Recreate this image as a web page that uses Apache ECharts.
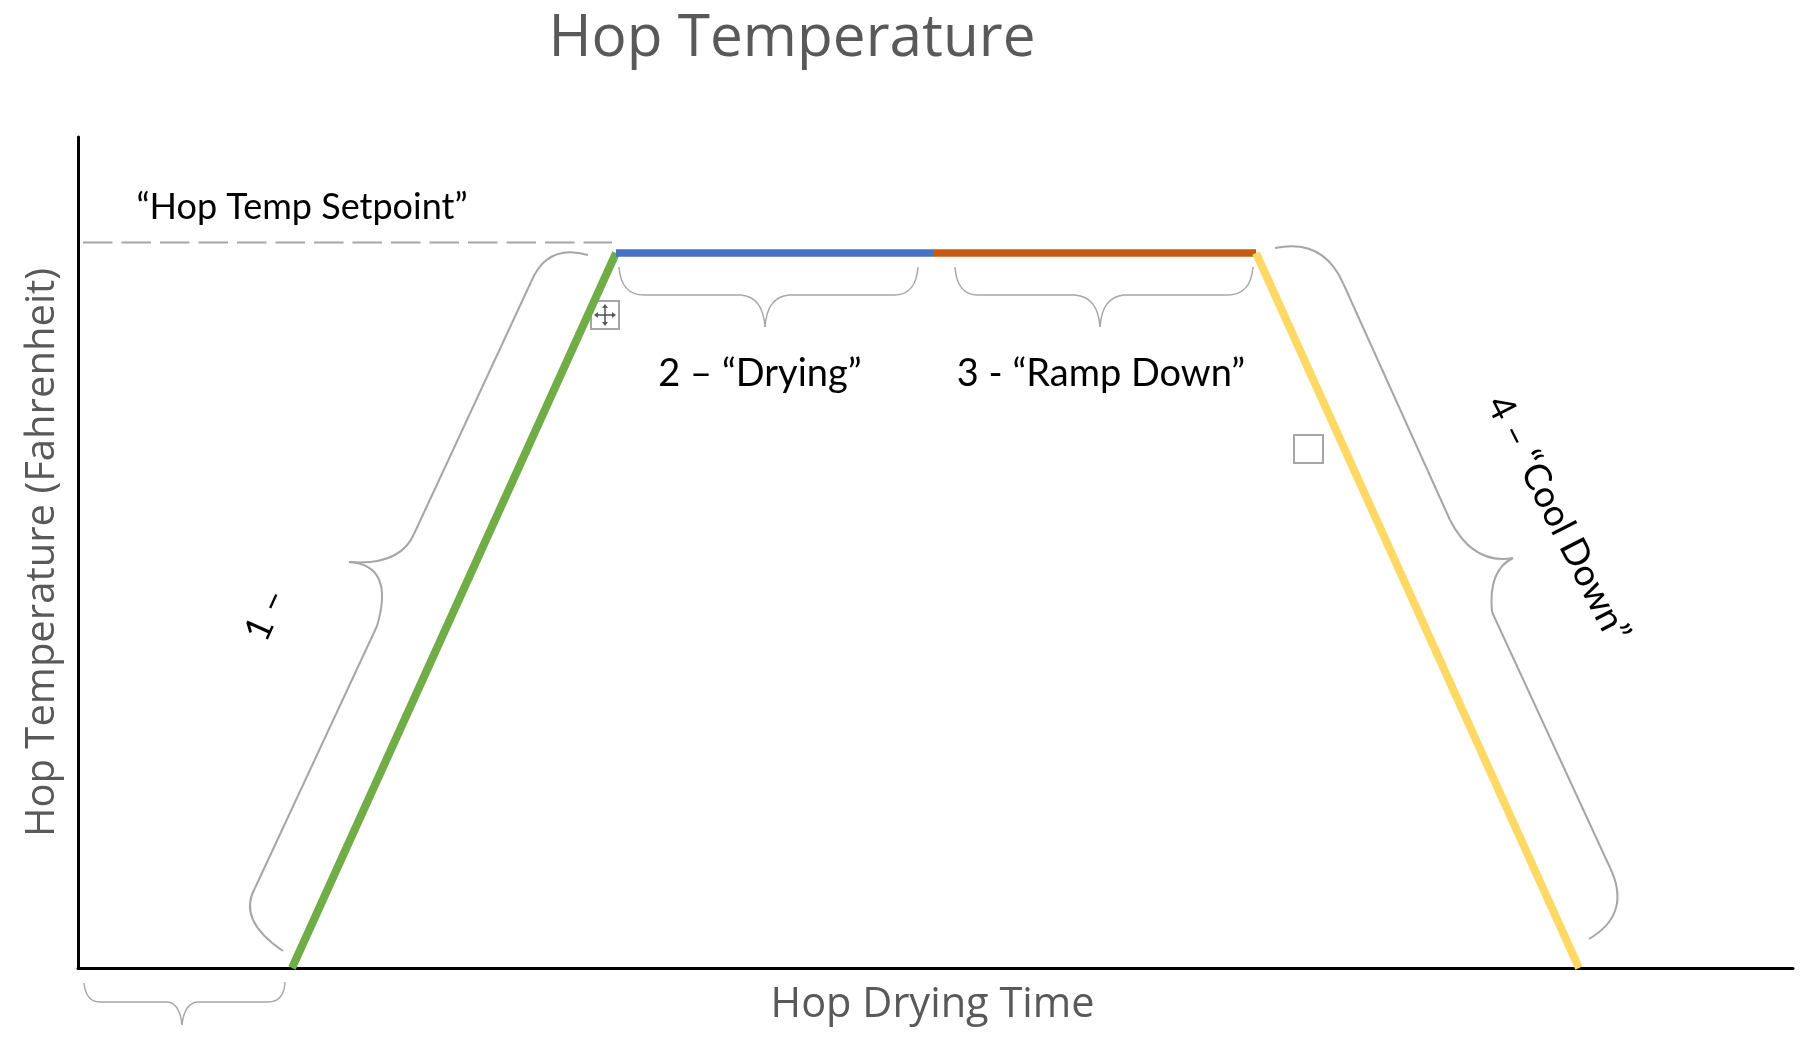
<!DOCTYPE html>
<html>
<head>
<meta charset="utf-8">
<style>html,body{margin:0;padding:0;background:#fff}#c{width:1802px;height:1038px}</style>
<script src="https://cdn.jsdelivr.net/npm/echarts@6/dist/echarts.min.js"></script>
</head>
<body>
<div id="c"></div>
<script>
const titleText = 'Hop Temperature';
const xAxisName = 'Hop Drying Time';
const yAxisName = 'Hop Temperature (Fahrenheit)';

const heating  = [[214, 0], [538, 715]];
const drying   = [[538, 715], [855, 715]];
const rampDown = [[855, 715], [1178, 715]];
const coolDown = [[1178, 715], [1501, 0]];
const setpoint = [[5, 725.5], [534, 725.5]];

// start, ctrl, a, b, ctrl, tip, ctrl, c, d, ctrl, end
const braceLead  = [[6,-15],[8,-34],[22,-34],[90,-34],[102,-36],[104,-57],[106,-36],[119,-34],[190,-34],[206,-34],[207,-14]];
const braceHeat  = [[510,713],[469,725],[453,686],[336,434],[322,402],[271,406],[317,403],[299,342],[177,80],[159,48],[205,17]];
const braceDry   = [[541,701],[543,673],[566,673],[663,673],[685,671],[687,641],[689,671],[711,673],[816,673],[838,673],[840,701]];
const braceRamp  = [[877,701],[879,673],[900,673],[997,673],[1020,671],[1022,641],[1024,671],[1046,673],[1149,673],[1173,673],[1175,701]];
const braceCool  = [[1197,720],[1245,730],[1265,685],[1372,448],[1395,403],[1435,410],[1410,398],[1414,356],[1534,96],[1552,53],[1511,29]];
const thinBraces = [braceLead, braceDry, braceRamp];
const wideBraces = [braceHeat, braceCool];

const notes = [
  ['“Hop Temp Setpoint”', 224, 761, 0],
  ['2 – “Drying”', 682, 594, 0],
  ['3 - “Ramp Down”', 1023, 594, 0],
  ['1 –', 188, 353, 65.6],
  ['4 – “Cool Down”', 1480, 449, -63]
];
const noteFontSizes = [36, 38, 38, 37, 37];
const handleBoxes = [[513, 667, 541, 639], [1216, 533, 1245, 505]];
const moveIconAt = [527, 653];

const grey = '#A6A6A6';
const textFont = '"Open Sans","Noto Sans",sans-serif';
const noteFont = 'Lato,"Open Sans",sans-serif';

function lineSeries(name, data, color, width, type) {
  return {
    name, type: 'line', data, symbol: 'none', silent: true, animation: false, clip: false,
    lineStyle: { color, width, type: type || 'solid', cap: 'butt' }
  };
}

function braceChildren(p, api, width) {
  const c = p.map(q => api.coord(q));
  const style = { stroke: grey, lineWidth: width, fill: null };
  const quad = (a, m, b) => ({ type: 'bezierCurve', shape: { x1: c[a][0], y1: c[a][1], cpx1: c[m][0], cpy1: c[m][1], x2: c[b][0], y2: c[b][1] }, style });
  const seg = (a, b) => ({ type: 'line', shape: { x1: c[a][0], y1: c[a][1], x2: c[b][0], y2: c[b][1] }, style });
  return [quad(0, 1, 2), seg(2, 3), quad(3, 4, 5), quad(5, 6, 7), seg(7, 8), quad(8, 9, 10)];
}

function bracesSeries(list, width) {
  return {
    type: 'custom', coordinateSystem: 'cartesian2d', silent: true, animation: false, clip: false,
    data: list.map((_, i) => [i]),
    renderItem: (params, api) => ({ type: 'group', children: braceChildren(list[params.dataIndex], api, width) })
  };
}

const option = {
  animation: false,
  backgroundColor: '#fff',
  title: {
    text: titleText, left: 787, top: 34, textAlign: 'center', textVerticalAlign: 'middle',
    textStyle: { color: '#595959', fontSize: 58.5, fontWeight: 'normal', fontFamily: textFont }
  },
  grid: { left: 78, top: 137, width: 1715, height: 831, containLabel: false, outerBoundsMode: 'none' },
  xAxis: {
    type: 'value', min: 0, max: 1715, name: xAxisName, nameLocation: 'middle', nameGap: 37,
    nameTextStyle: { color: '#595959', fontSize: 41.5, fontFamily: textFont, verticalAlign: 'middle', padding: [0, 6, 0, 0] },
    axisLine: { onZero: false, lineStyle: { color: '#000', width: 3 } },
    axisTick: { show: false }, axisLabel: { show: false }, splitLine: { show: false }
  },
  yAxis: {
    type: 'value', min: 0, max: 831, name: yAxisName, nameLocation: 'middle', nameGap: 35,
    nameTextStyle: { color: '#595959', fontSize: 40, fontFamily: textFont, verticalAlign: 'middle' },
    axisLine: { onZero: false, show: true, lineStyle: { color: '#000', width: 3 } },
    axisTick: { show: false }, axisLabel: { show: false }, splitLine: { show: false }
  },
  series: [
    lineSeries('Setpoint', setpoint, grey, 2, [29.5, 9]),
    bracesSeries(thinBraces, 1.4),
    bracesSeries(wideBraces, 2),
    lineSeries('Heating', heating, '#70AD47', 8),
    lineSeries('Drying', drying, '#4472C4', 7.5),
    lineSeries('Ramp Down', rampDown, '#C55A11', 7.5),
    lineSeries('Cool Down', coolDown, '#FFD966', 8),
    {
      type: 'custom', coordinateSystem: 'cartesian2d', silent: true, animation: false, clip: false,
      data: handleBoxes.map((_, i) => [i]),
      renderItem: (params, api) => {
        const b = handleBoxes[params.dataIndex];
        const a = api.coord([b[0], b[1]]), z = api.coord([b[2], b[3]]);
        const children = [{
          type: 'rect', shape: { x: a[0], y: a[1], width: z[0] - a[0], height: z[1] - a[1] },
          style: { stroke: grey, lineWidth: 2, fill: '#fff' }
        }];
        if (params.dataIndex === 0) {
          const m = api.coord(moveIconAt), x = m[0], y = m[1], s = { stroke: '#595959', lineWidth: 1.6 }, f = { fill: '#595959' };
          children.push(
            { type: 'line', shape: { x1: x - 9, y1: y, x2: x + 9, y2: y }, style: s },
            { type: 'line', shape: { x1: x, y1: y - 9, x2: x, y2: y + 9 }, style: s },
            { type: 'polygon', shape: { points: [[x - 11, y], [x - 7, y - 3], [x - 7, y + 3]] }, style: f },
            { type: 'polygon', shape: { points: [[x + 11, y], [x + 7, y - 3], [x + 7, y + 3]] }, style: f },
            { type: 'polygon', shape: { points: [[x, y - 11], [x - 3, y - 7], [x + 3, y - 7]] }, style: f },
            { type: 'polygon', shape: { points: [[x, y + 11], [x - 3, y + 7], [x + 3, y + 7]] }, style: f }
          );
        }
        return { type: 'group', children };
      }
    },
    {
      type: 'custom', coordinateSystem: 'cartesian2d', silent: true, animation: false, clip: false,
      data: notes.map((_, i) => [i]),
      renderItem: (params, api) => {
        const n = notes[params.dataIndex];
        const p = api.coord([n[1], n[2]]);
        return {
          type: 'text', x: p[0], y: p[1], rotation: n[3] * Math.PI / 180,
          style: { text: n[0], fill: '#000', font: noteFontSizes[params.dataIndex] + 'px ' + noteFont, align: 'center', verticalAlign: 'middle' }
        };
      }
    }
  ]
};
echarts.init(document.getElementById('c'), null, { renderer: 'canvas' }).setOption(option);
</script>
</body>
</html>
